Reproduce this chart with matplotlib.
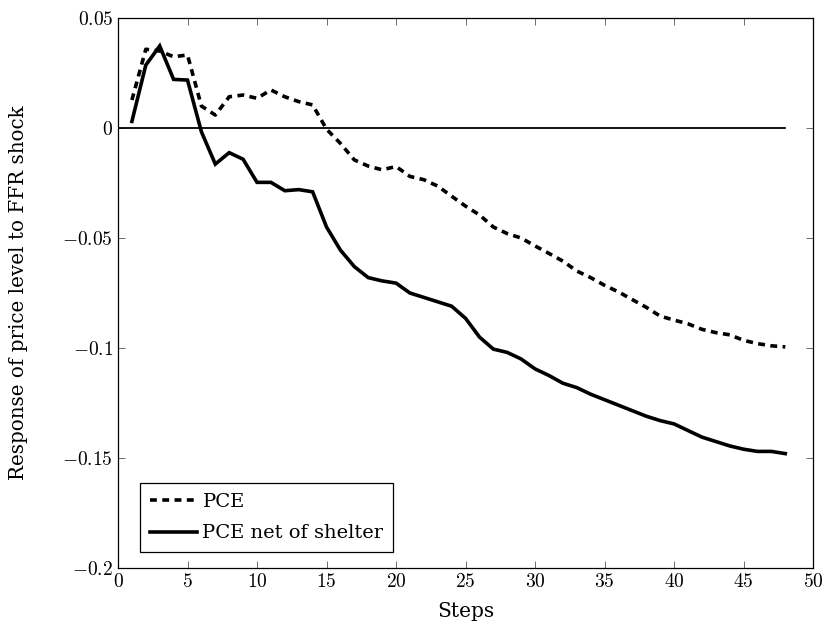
import numpy as np
import matplotlib
matplotlib.use("Agg")
from matplotlib import pyplot as plt
from matplotlib.ticker import FuncFormatter

plt.rcParams['font.family'] = ['DejaVu Serif']
plt.rcParams['mathtext.fontset'] = 'cm'

# impulse responses, steps 1..48
steps = np.arange(1, 49)
pce = [0.0127, 0.0358, 0.035, 0.0324, 0.0332, 0.010, 0.0059, 0.0142, 0.015, 0.0135,
       0.0173, 0.0142, 0.012, 0.0105, -0.0005, -0.007, -0.0145, -0.0173, -0.019, -0.0175,
       -0.022, -0.0235, -0.0264, -0.031, -0.0355, -0.0395, -0.045, -0.048, -0.050, -0.0536,
       -0.057, -0.0605, -0.065, -0.068, -0.0715, -0.0745, -0.078, -0.0815, -0.0855, -0.0873,
       -0.089, -0.0915, -0.093, -0.094, -0.0965, -0.098, -0.099, -0.0995]
pce_net_shelter = [0.003, 0.0286, 0.0373, 0.0221, 0.0218, -0.0017, -0.0164, -0.0112, -0.0142, -0.0247,
                   -0.0247, -0.0285, -0.028, -0.029, -0.045, -0.0555, -0.063, -0.068, -0.0695, -0.0705,
                   -0.075, -0.077, -0.079, -0.081, -0.0865, -0.095, -0.1005, -0.102, -0.105, -0.1095,
                   -0.1125, -0.116, -0.118, -0.121, -0.1235, -0.126, -0.1285, -0.131, -0.133, -0.1345,
                   -0.1375, -0.1405, -0.1425, -0.1445, -0.146, -0.147, -0.147, -0.148]

# zero reference line runs from step 0 to the last step
zero_steps = np.arange(0, 49)
zero_vals = np.zeros(len(zero_steps))

xticks = np.arange(0, 51, 5)
yticks = [-0.2, -0.15, -0.1, -0.05, 0, 0.05]

fig = plt.figure(figsize=(8.28, 6.3), dpi=100)
ax = fig.add_axes([0.1425, 0.0984, 0.8395, 0.873])

ax.plot(zero_steps, zero_vals, color='black', lw=1.3)
ax.plot(steps, pce, color='black', lw=2.6, dashes=(1.9, 1.5), dash_capstyle='butt', label='PCE')
ax.plot(steps, pce_net_shelter, color='black', lw=2.6, solid_joinstyle='miter', label='PCE net of shelter')

ax.set_xlim(0, 50)
ax.set_ylim(-0.2, 0.05)
ax.set_xticks(xticks)
ax.set_yticks(yticks)

def fmt(v, pos):
    return '$%g$' % v

ax.xaxis.set_major_formatter(FuncFormatter(fmt))
ax.yaxis.set_major_formatter(FuncFormatter(fmt))
ax.tick_params(direction='in', top=True, right=True, length=5, width=0.6,
               color='#555555', labelsize=14)
for sp in ax.spines.values():
    sp.set_linewidth(0.9)

ax.set_xlabel('Steps', fontsize=14.5, labelpad=8)
ax.set_ylabel('Response of price level to FFR shock', fontsize=14.3, labelpad=25)

leg = ax.legend(loc='lower left', bbox_to_anchor=(0.032, 0.029), borderaxespad=0,
                fontsize=14, frameon=True, fancybox=False, edgecolor='black', framealpha=1,
                handlelength=2.4, handletextpad=0.3, borderpad=0.5, labelspacing=0.7)
leg.get_frame().set_linewidth(0.9)

fig.savefig('out.png', dpi=100)
